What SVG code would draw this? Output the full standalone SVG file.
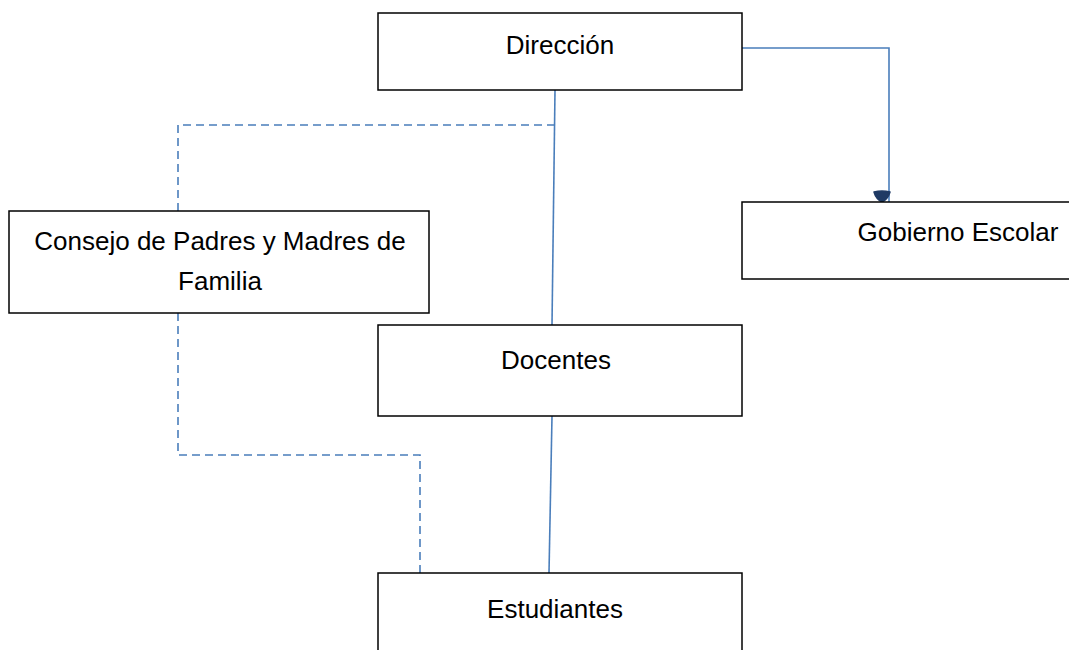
<svg xmlns="http://www.w3.org/2000/svg" width="1069" height="650" viewBox="0 0 1069 650">
  <style>
    .box { fill: #ffffff; stroke: #000000; stroke-width: 1.5; }
    .lbl { font-family: "Liberation Sans", Arial, sans-serif; font-size: 26px; fill: #000000; text-anchor: middle; }
    .conn { fill: none; stroke: #4a7ebb; stroke-width: 1.6; }
    .dash { stroke-dasharray: 8 5; }
    .head { fill: #1f3a64; stroke: #1f3a64; stroke-width: 1.5; stroke-linejoin: round; }
  </style>
  <rect width="1069" height="650" fill="#ffffff"/>
  <g id="connectors">
    <path class="conn" d="M555,90 L552,325"/>
    <path class="conn" d="M552,416 L549,573"/>
    <path class="conn" d="M742,48 L889,48 L889,202"/>
    <path class="head" d="M874,192 Q882,190 890,192 Q888,199 882,202 Q876,199 874,192 Z"/>
    <path class="conn dash" d="M555,125 L178,125 L178,211"/>
    <path class="conn dash" d="M178,313 L178,455 L420,455 L420,573"/>
  </g>
  <g id="direccion">
    <rect class="box" x="378" y="13" width="364" height="77"/>
    <text class="lbl" x="560" y="54">Dirección</text>
  </g>
  <g id="gobierno">
    <rect class="box" x="742" y="202" width="340" height="77"/>
    <text class="lbl" x="958" y="241">Gobierno Escolar</text>
  </g>
  <g id="consejo">
    <rect class="box" x="9" y="211" width="420" height="102"/>
    <text class="lbl" x="220" y="250">Consejo de Padres y Madres de</text>
    <text class="lbl" x="220" y="290">Familia</text>
  </g>
  <g id="docentes">
    <rect class="box" x="378" y="325" width="364" height="91"/>
    <text class="lbl" x="556" y="369">Docentes</text>
  </g>
  <g id="estudiantes">
    <rect class="box" x="378" y="573" width="364" height="100"/>
    <text class="lbl" x="555" y="618">Estudiantes</text>
  </g>
</svg>
